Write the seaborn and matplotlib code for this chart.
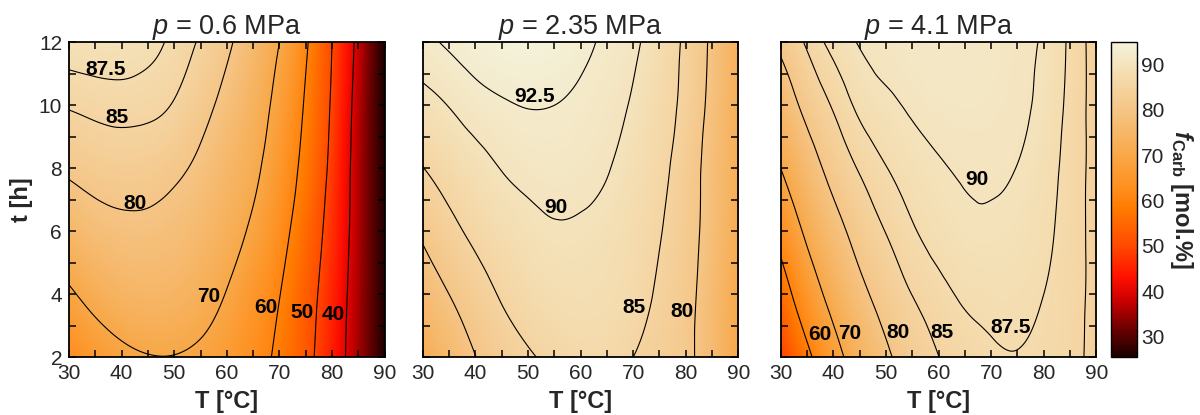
import numpy as np
import matplotlib
matplotlib.use("Agg")
import matplotlib.pyplot as plt
import matplotlib.tri as mtri
from matplotlib.colors import LinearSegmentedColormap, Normalize
from matplotlib.ticker import MultipleLocator
import seaborn as sns

# ---------------- data ----------------
T_grid = [30, 35, 40, 45, 50, 55, 60, 65, 70, 75, 80, 85, 90]   # °C
t_grid = [2, 4, 6, 8, 10, 12]                                     # h

# f_Carb [mol.%], one row per t (2 ... 12 h), one column per T
f_p06 = [
    [62.1, 65.9, 68.4, 69.7, 69.8, 68.8, 66.5, 62.9, 58.4, 52.3, 44.5, 35.5, 25.8],
    [69.0, 72.2, 74.2, 75.0, 74.5, 72.7, 69.7, 65.2, 60.2, 53.4, 45.5, 35.8, 26.0],
    [75.4, 77.5, 78.6, 78.7, 77.8, 75.9, 72.9, 68.7, 62.8, 55.4, 46.8, 36.3, 26.0],
    [80.9, 82.1, 82.6, 82.3, 81.0, 78.8, 75.3, 71.6, 65.2, 57.7, 48.0, 36.5, 25.8],
    [85.3, 85.9, 86.2, 85.9, 84.7, 81.8, 78.2, 73.6, 67.6, 59.2, 49.1, 37.0, 25.6],
    [89.0, 89.3, 89.2, 88.5, 86.8, 84.5, 81.0, 75.9, 70.0, 61.0, 50.0, 38.0, 25.5],
]
f_p235 = [
    [72.0, 76.2, 79.9, 82.6, 84.5, 85.9, 86.8, 86.7, 85.0, 83.2, 81.4, 76.4, 70.0],
    [76.7, 80.0, 82.9, 85.4, 87.1, 88.1, 88.4, 88.0, 86.9, 84.3, 81.6, 76.8, 70.5],
    [80.8, 83.7, 86.0, 87.8, 89.0, 89.7, 89.6, 88.9, 87.5, 85.3, 82.1, 77.6, 71.5],
    [84.9, 87.0, 88.7, 90.1, 90.9, 91.2, 90.9, 90.2, 88.4, 86.3, 82.5, 78.0, 72.0],
    [88.8, 90.1, 91.4, 92.2, 92.6, 92.5, 91.9, 91.0, 89.6, 87.0, 83.7, 78.5, 72.5],
    [91.8, 92.9, 94.0, 94.6, 94.8, 94.4, 93.3, 91.9, 90.6, 87.8, 84.2, 79.0, 73.0],
]
f_p41 = [
    [49.0, 58.2, 67.0, 73.8, 79.0, 82.5, 84.95, 86.2, 87.1, 87.4, 87.0, 86.0, 84.0],
    [55.8, 65.2, 72.7, 78.4, 82.3, 85.05, 86.7, 87.9, 88.35, 88.3, 87.5, 86.2, 84.0],
    [63.0, 71.4, 77.6, 82.1, 85.1, 87.2, 88.55, 89.45, 89.6, 89.2, 88.1, 86.4, 83.9],
    [70.0, 76.8, 81.9, 85.3, 87.4, 88.8, 89.75, 90.25, 90.3, 89.95, 88.6, 86.6, 83.8],
    [75.9, 81.6, 85.35, 88.1, 89.45, 90.35, 90.9, 91.05, 90.9, 90.45, 89.3, 86.8, 83.8],
    [81.2, 85.5, 88.3, 90.2, 90.9, 91.4, 91.6, 91.5, 91.2, 90.6, 89.7, 87.0, 83.7],
]

panel_titles = ["$p$ = 0.6 MPa", "$p$ = 2.35 MPa", "$p$ = 4.1 MPa"]
levels_p06 = [40, 50, 60, 70, 80, 85, 87.5]
levels_p235 = [80, 85, 90, 92.5]
levels_p41 = [60, 70, 80, 85, 87.5, 90]

# contour label texts and their anchor positions (T, t)
labels_p06 = [("87.5", 37.0, 11.15), ("85", 39.1, 9.62), ("80", 42.6, 6.89),
              ("70", 56.6, 3.93), ("60", 67.5, 3.57), ("50", 74.3, 3.42), ("40", 80.2, 3.35)]
labels_p235 = [("92.5", 51.2, 10.28), ("90", 55.4, 6.76), ("85", 70.2, 3.57), ("80", 79.3, 3.46)]
labels_p41 = [("90", 67.2, 7.65), ("60", 37.4, 2.71), ("70", 43.2, 2.75), ("80", 52.3, 2.78),
              ("85", 60.6, 2.80), ("87.5", 73.8, 2.96)]

cbar_ticks = [30, 40, 50, 60, 70, 80, 90]
vmin, vmax = 25.5, 94.8

# ---------------- style ----------------
sns.set_theme(style="ticks", rc={
    "axes.linewidth": 1.3,
    "xtick.direction": "in", "ytick.direction": "in",
})
plt.rcParams['font.family'] = ['Liberation Sans', 'DejaVu Sans']
plt.rcParams['mathtext.fontset'] = 'custom'
plt.rcParams['mathtext.rm'] = 'Liberation Sans'
plt.rcParams['mathtext.it'] = 'Liberation Sans:italic'
plt.rcParams['mathtext.bf'] = 'Liberation Sans:bold'
plt.rcParams['mathtext.bfit'] = 'Liberation Sans:italic:bold'
plt.rcParams['axes.edgecolor'] = 'black'

anchor_vals = [25.5, 32, 38, 43, 50, 58, 63, 70, 80, 88, 94.8]
anchor_cols = ["#1a0000", "#700000", "#cc0000", "#ff1000", "#ff4a00", "#ff7a00",
               "#ff9020", "#f8a848", "#f5c586", "#f5ddb0", "#f4f2da"]
cmap = LinearSegmentedColormap.from_list(
    "carb", [((v - vmin) / (vmax - vmin), c) for v, c in zip(anchor_vals, anchor_cols)])
norm = Normalize(vmin=vmin, vmax=vmax)


def smooth_field(Z):
    """Smooth rendering of the grid values via matplotlib's cubic tri-interpolator."""
    nx, ny = len(T_grid), len(t_grid)
    ix, iy = np.meshgrid(np.arange(nx), np.arange(ny))
    x = ix.ravel().astype(float)
    y = iy.ravel().astype(float)
    tris = []
    for j in range(ny - 1):
        for i in range(nx - 1):
            a = j * nx + i
            b = a + 1
            c = a + nx
            d = c + 1
            tris.append([a, b, d])
            tris.append([a, d, c])
    tri = mtri.Triangulation(x, y, np.array(tris))
    interp = mtri.CubicTriInterpolator(tri, np.asarray(Z, float).ravel(), kind='min_E')
    Tf = np.linspace(T_grid[0], T_grid[-1], 361)
    tf = np.linspace(t_grid[0], t_grid[-1], 301)
    TF, TFt = np.meshgrid(Tf, tf)
    xf = np.interp(TF, T_grid, np.arange(nx))
    yf = np.interp(TFt, t_grid, np.arange(ny))
    eps = 1e-7
    xf = np.clip(xf, eps, nx - 1 - eps)
    yf = np.clip(yf, eps, ny - 1 - eps)
    Zf = interp(xf, yf)
    return Tf, tf, np.ma.filled(Zf, np.nan)


fig = plt.figure(figsize=(12, 4.15), dpi=100)
lefts = [0.0575, 0.3523, 0.6506]
bottom, height, width = 0.139, 0.759, 0.263

panels = [(f_p06, levels_p06, labels_p06), (f_p235, levels_p235, labels_p235),
          (f_p41, levels_p41, labels_p41)]
im = None
for k, (Z, levels, labs) in enumerate(panels):
    ax = fig.add_axes([lefts[k], bottom, width, height])
    Tf, tf, Zf = smooth_field(Z)
    im = ax.imshow(Zf, extent=[Tf[0], Tf[-1], tf[0], tf[-1]], origin='lower',
                   aspect='auto', cmap=cmap, norm=norm, interpolation='bilinear')
    ax.contour(Tf, tf, Zf, levels=levels, colors='black', linewidths=0.8)
    for txt, x, y in labs:
        ax.text(x, y, txt, ha='center', va='center', fontsize=15, fontweight='bold',
                color='black')
    ax.set_xlim(30, 90)
    ax.set_ylim(2, 12)
    ax.set_xticks(range(30, 91, 10))
    ax.set_yticks(range(2, 13, 2))
    ax.xaxis.set_minor_locator(MultipleLocator(5))
    ax.yaxis.set_minor_locator(MultipleLocator(1))
    ax.tick_params(which='both', direction='in', top=True, right=True,
                   length=5, width=1.1, color='black', labelsize=15)
    ax.tick_params(axis='x', pad=5)
    ax.tick_params(axis='y', pad=5)
    ax.set_xlabel("T [°C]", fontsize=17, fontweight='bold', labelpad=5)
    ax.set_title(panel_titles[k], fontsize=19.5, pad=6)
    for s in ax.spines.values():
        s.set_linewidth(1.3)
        s.set_color('black')
    if k == 0:
        ax.set_ylabel("t [h]", fontsize=17, fontweight='bold', labelpad=4)
    else:
        ax.tick_params(labelleft=False)

cax = fig.add_axes([0.9258, bottom, 0.0217, height])
cb = fig.colorbar(im, cax=cax)
cb.set_ticks(cbar_ticks)
cb.ax.tick_params(length=0, labelsize=15, pad=3)
cb.outline.set_linewidth(1.0)
cb.outline.set_edgecolor('black')
cb.set_label(r"$\mathbfit{f}_{\mathbf{Carb}}$ [mol.%]", fontsize=17, fontweight='bold',
             rotation=270, labelpad=22)

fig.savefig("out.png", dpi=100)
